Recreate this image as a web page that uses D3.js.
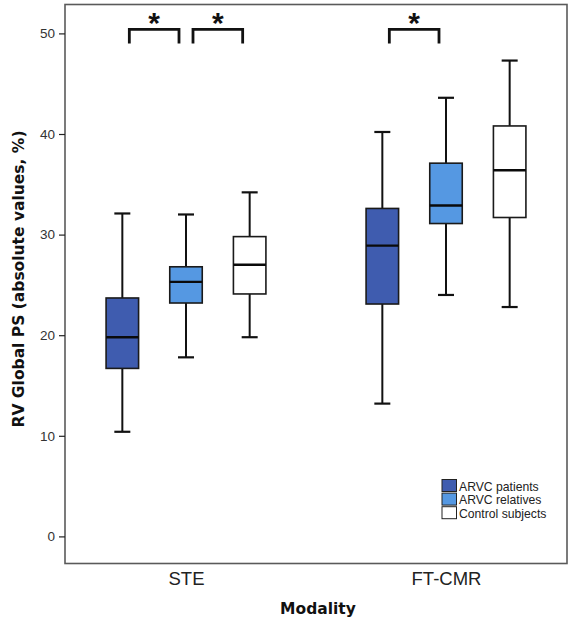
<!DOCTYPE html>
<html>
<head>
<meta charset="utf-8">
<script src="https://cdn.jsdelivr.net/npm/d3@7"></script>
<style>
  html, body { margin: 0; padding: 0; background: #fff; }
  svg { display: block; }
</style>
</head>
<body>
<svg id="chart" width="573" height="624"></svg>
<script>
// ---------- data ----------
const categories = ["STE", "FT-CMR"];
const groups = ["ARVC patients", "ARVC relatives", "Control subjects"];
const groupColors = ["#3F5CAF", "#5598E2", "#FFFFFF"];
// [category][group]
const whiskerLow  = [[10.4, 17.8, 19.8], [13.2, 24.0, 22.8]];
const q1          = [[16.7, 23.2, 24.1], [23.1, 31.1, 31.7]];
const median      = [[19.8, 25.3, 27.0], [28.9, 32.9, 36.4]];
const q3          = [[23.7, 26.8, 29.8], [32.6, 37.1, 40.8]];
const whiskerHigh = [[32.1, 32.0, 34.2], [40.2, 43.6, 47.3]];
const yTicks = [0, 10, 20, 30, 40, 50];
// significance brackets: category index, group a, group b
const sigCategory = [0, 0, 1];
const sigFrom     = [0, 1, 0];
const sigTo       = [1, 2, 1];
const sigLevel = 50.4;
const sigLegLow = 49.0;
const sigLabel = "*";
const xTitle = "Modality";
const yTitle = "RV Global PS (absolute values, %)";

// ---------- layout ----------
const svg = d3.select("#chart");
const frame = { left: 65, right: 567, top: 4.5, bottom: 563.5 };

const y = d3.scaleLinear().domain([0, 50]).range([536.4, 33.4]);
const x = d3.scalePoint().domain(categories).range([186, 446]);
const xg = d3.scaleBand().domain(groups).range([-95.5, 95.5]);
const boxW = 32.5;
const capW = 16;

const gx = (ci, gi) => x(categories[ci]) + xg(groups[gi]) + xg.bandwidth() / 2;

// frame
svg.append("rect")
  .attr("x", frame.left).attr("y", frame.top)
  .attr("width", frame.right - frame.left).attr("height", frame.bottom - frame.top)
  .attr("fill", "none").attr("stroke", "#5a5a5a").attr("stroke-width", 1.6);

// y axis
const yAxis = d3.axisLeft(y).tickValues(yTicks).tickSize(6).tickPadding(4).tickFormat(d3.format("d"));
const ya = svg.append("g").attr("transform", `translate(${frame.left},0)`).call(yAxis);
ya.select(".domain").remove();
ya.selectAll(".tick line").attr("stroke", "#222").attr("stroke-width", 1.2);
ya.selectAll(".tick text")
  .attr("font-family", "Liberation Sans, Arial, sans-serif")
  .attr("font-size", 13.5).attr("fill", "#333");

// x axis labels
const xAxis = d3.axisBottom(x).tickSize(0).tickPadding(8);
const xa = svg.append("g").attr("transform", `translate(0,${frame.bottom})`).call(xAxis);
xa.select(".domain").remove();
xa.selectAll(".tick text")
  .attr("font-family", "Liberation Sans, Arial, sans-serif")
  .attr("font-size", 18.5).attr("fill", "#222");

// titles
svg.append("text")
  .attr("x", 318).attr("y", 614)
  .attr("text-anchor", "middle")
  .attr("font-family", "DejaVu Sans, sans-serif").attr("font-weight", "bold")
  .attr("font-size", 15.5).attr("fill", "#111")
  .text(xTitle);

svg.append("text")
  .attr("transform", "translate(24,279) rotate(-90)")
  .attr("text-anchor", "middle")
  .attr("font-family", "DejaVu Sans, sans-serif").attr("font-weight", "bold")
  .attr("font-size", 15.5).attr("fill", "#111")
  .text(yTitle);

// boxes
const boxes = [];
categories.forEach((c, ci) => groups.forEach((g, gi) => {
  boxes.push({ ci, gi, lo: whiskerLow[ci][gi], q1: q1[ci][gi], med: median[ci][gi], q3: q3[ci][gi], hi: whiskerHigh[ci][gi] });
}));

const bg = svg.append("g").selectAll("g").data(boxes).join("g")
  .attr("transform", d => `translate(${gx(d.ci, d.gi)},0)`);

// whiskers
bg.append("line").attr("x1", 0).attr("x2", 0)
  .attr("y1", d => y(d.hi)).attr("y2", d => y(d.q3))
  .attr("stroke", "#111").attr("stroke-width", 2);
bg.append("line").attr("x1", 0).attr("x2", 0)
  .attr("y1", d => y(d.q1)).attr("y2", d => y(d.lo))
  .attr("stroke", "#111").attr("stroke-width", 2);
bg.append("line").attr("x1", -capW / 2).attr("x2", capW / 2)
  .attr("y1", d => y(d.hi)).attr("y2", d => y(d.hi))
  .attr("stroke", "#111").attr("stroke-width", 2.2);
bg.append("line").attr("x1", -capW / 2).attr("x2", capW / 2)
  .attr("y1", d => y(d.lo)).attr("y2", d => y(d.lo))
  .attr("stroke", "#111").attr("stroke-width", 2.2);
// box
bg.append("rect")
  .attr("x", -boxW / 2).attr("width", boxW)
  .attr("y", d => y(d.q3)).attr("height", d => y(d.q1) - y(d.q3))
  .attr("fill", d => groupColors[d.gi])
  .attr("stroke", "#1a1a1a").attr("stroke-width", 1.6);
// median
bg.append("line").attr("x1", -boxW / 2).attr("x2", boxW / 2)
  .attr("y1", d => y(d.med)).attr("y2", d => y(d.med))
  .attr("stroke", "#0a0a0a").attr("stroke-width", 2.4);

// significance brackets
const inset = 7;
sigCategory.forEach((ci, i) => {
  const xa1 = gx(ci, sigFrom[i]) + inset;
  const xb1 = gx(ci, sigTo[i]) - inset;
  svg.append("path")
    .attr("d", `M${xa1},${y(sigLegLow)}V${y(sigLevel)}H${xb1}V${y(sigLegLow)}`)
    .attr("fill", "none").attr("stroke", "#111").attr("stroke-width", 2.8);
  svg.append("text")
    .attr("x", (xa1 + xb1) / 2).attr("y", 32.5)
    .attr("text-anchor", "middle")
    .attr("font-family", "Liberation Sans, Arial, sans-serif").attr("font-weight", "bold")
    .attr("font-size", 30).attr("fill", "#111")
    .text(sigLabel);
});

// legend
const rowH = 13.6;
const lg = svg.append("g").selectAll("g").data(groups).join("g")
  .attr("transform", (d, i) => `translate(442,${479.5 + i * rowH})`);
lg.append("rect").attr("width", 14.5).attr("height", 12)
  .attr("fill", (d, i) => groupColors[i]).attr("stroke", "#222").attr("stroke-width", 1);
lg.append("text").attr("x", 17).attr("y", 11)
  .attr("font-family", "Liberation Sans, Arial, sans-serif")
  .attr("font-size", 12.2).attr("fill", "#222")
  .text(d => d);
</script>
</body>
</html>
